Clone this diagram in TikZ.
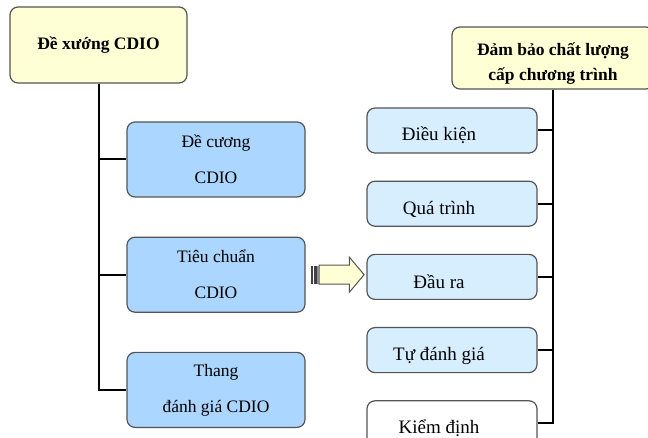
\documentclass[tikz,border=0pt]{standalone}
\usepackage{fontspec}
\setmainfont{Liberation Serif}
\usetikzlibrary{positioning,shapes.arrows}

\definecolor{paleyellow}{RGB}{255,255,213}
\definecolor{skyblue}{RGB}{170,214,255}
\definecolor{paleblue}{RGB}{214,238,255}
\definecolor{edgegray}{RGB}{85,85,85}

% strut that pushes a first line down a bit
\newcommand{\boxstrut}[1]{\rule{0pt}{#1}}

\begin{document}
\begin{tikzpicture}[
        x=1pt, y=-1pt, % one unit per pixel, y counted downwards
        % Define a style for the yellow title boxes
        head_box/.style={draw=edgegray, fill=paleyellow, rounded corners=8pt, line width=1.2pt,
            inner sep=0pt, align=center, font=\bfseries\fontsize{17.5}{25}\selectfont},
        % Define a style for the blue boxes on the left
        main_box/.style={draw=edgegray, fill=skyblue, rounded corners=8pt, line width=1.2pt,
            minimum width=178pt, minimum height=75pt, inner sep=0pt, align=center,
            font=\fontsize{17.5}{36}\selectfont},
        % Define a style for the pale boxes on the right (text sits a little to the left and lower)
        sub_box/.style={draw=edgegray, fill=paleblue, rounded corners=8pt, line width=1.2pt,
            minimum width=170pt, minimum height=45pt, inner sep=0pt,
            font=\fontsize{19}{23}\selectfont,
            execute at begin node={\boxstrut{24pt}}, execute at end node={\hspace*{26pt}}},
        % Define a style for the tree lines
        branch_line/.style={line width=2pt, black},
        % Define a style for the fat arrow
        fat_arrow/.style={single arrow, draw=edgegray, fill=paleyellow, line width=1pt,
            inner xsep=0pt, inner ysep=9pt, minimum width=0pt, minimum height=45pt,
            single arrow head extend=8pt, single arrow tip angle=100}
    ]

    % Fix the frame and cut off what runs past it
    \useasboundingbox (0,0) rectangle (648,438);
    \clip (0,0) rectangle (648,438);

    % Left tree
    \node[head_box, minimum width=177pt, minimum height=76pt] (dexuong) at (98.5,45) {Đề xướng CDIO};
    \node[main_box] (decuong) at (216,159.5) {Đề cương\\CDIO};
    \node[main_box, below=39pt of decuong] (tieuchuan) {Tiêu chuẩn\\CDIO};
    \node[main_box, below=39pt of tieuchuan] (thang) {Thang\\đánh giá CDIO};

    % Right tree
    \node[head_box, minimum width=202pt, minimum height=62pt] (dambao) at (553,58)
        {\boxstrut{23pt}Đảm bảo chất lượng\\cấp chương trình};
    \node[sub_box] (dieukien) at (452,130.5) {Điều kiện};
    \node[sub_box, below=27pt of dieukien] (quatrinh) {Quá trình};
    \node[sub_box, below=27pt of quatrinh] (daura) {Đầu ra};
    \node[sub_box, below=27pt of daura] (tudanhgia) {Tự đánh giá};
    \node[sub_box, fill=white, below=27pt of tudanhgia] (kiemdinh) {Kiểm định};

    % Draw the branches
    \foreach \b in {decuong,tieuchuan,thang}
        \draw[branch_line] (dexuong.south) |- (\b.west);
    \foreach \b in {dieukien,quatrinh,daura,tudanhgia,kiemdinh}
        \draw[branch_line] (dambao.south) |- (\b.east);

    % Fat arrow from the standards to the outcomes, with a striped tail
    \node[fat_arrow, right=13pt of tieuchuan] (arrow) {};
    \foreach \s/\w/\c in {8/2.5/black!75, 4.5/2.5/black!75, 1.5/1.5/black!45}
        \fill[\c] ([xshift=-\s pt]arrow.west) +(0,-9) rectangle +(\w,9);

\end{tikzpicture}
\end{document}
